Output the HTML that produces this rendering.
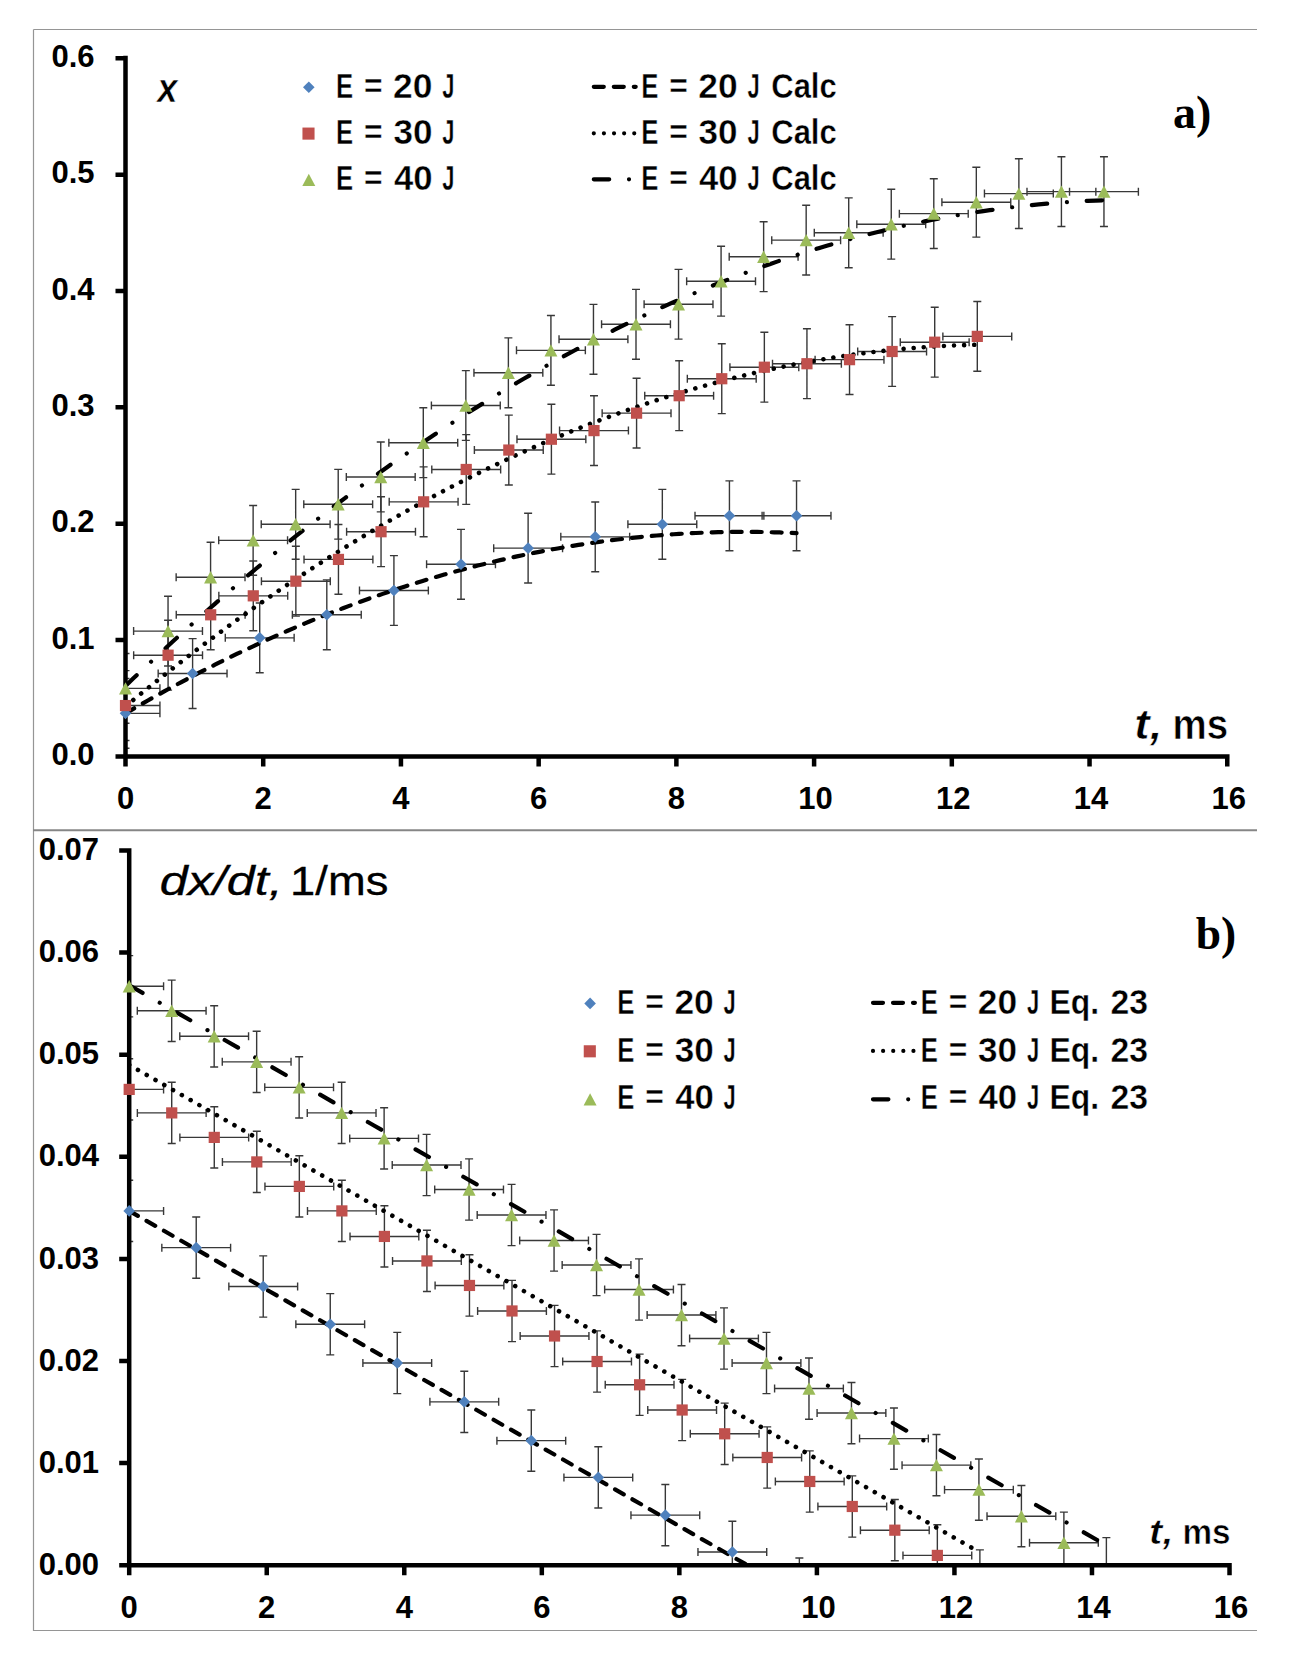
<!DOCTYPE html>
<html><head><meta charset="utf-8"><title>chart</title>
<style>html,body{margin:0;padding:0;background:#fff;}body{width:1300px;height:1670px;overflow:hidden;font-family:"Liberation Sans",sans-serif;}svg{display:block;}</style>
</head><body>
<svg width="1300" height="1670" viewBox="0 0 1300 1670">
<rect width="1300" height="1670" fill="#fff"/>
<path d="M33.5 29.5H1257M33.5 29.5V1630.5H1257" fill="none" stroke="#959595" stroke-width="1.2"/>
<path d="M33 830.3H1257" fill="none" stroke="#868686" stroke-width="2"/>
<defs>
<clipPath id="ca"><rect x="125.5" y="18.1" width="1141.8" height="738.3"/></clipPath>
<clipPath id="cb"><rect x="129.2" y="810.5" width="1140.3" height="754.7"/></clipPath>
</defs>
<g id="chartA">
<g clip-path="url(#ca)" fill="none" stroke="#383838" stroke-width="1.4">
<path d="M125.5 678.45V748.26M121.5 678.45H129.5M121.5 748.26H129.5M91.07 713.35H159.93M91.07 709.35V717.35M159.93 709.35V717.35M192.6 638.65V708.46M188.6 638.65H196.6M188.6 708.46H196.6M158.17 673.56H227.03M158.17 669.56V677.56M227.03 669.56V677.56M259.71 602.93V672.74M255.71 602.93H263.71M255.71 672.74H263.71M225.28 637.84H294.14M225.28 633.84V641.84M294.14 633.84V641.84M326.81 579.9V649.71M322.81 579.9H330.81M322.81 649.71H330.81M292.38 614.8H361.24M292.38 610.8V618.8M361.24 610.8V618.8M393.92 555.58V625.39M389.92 555.58H397.92M389.92 625.39H397.92M359.49 590.48H428.35M359.49 586.48V594.48M428.35 586.48V594.48M461.02 529.4V599.21M457.02 529.4H465.02M457.02 599.21H465.02M426.59 564.31H495.45M426.59 560.31V568.31M495.45 560.31V568.31M528.12 513.23V583.04M524.12 513.23H532.12M524.12 583.04H532.12M493.69 548.13H562.55M493.69 544.13V552.13M562.55 544.13V552.13M595.23 501.94V571.75M591.23 501.94H599.23M591.23 571.75H599.23M560.8 536.85H629.66M560.8 532.85V540.85M629.66 532.85V540.85M662.33 489.38V559.19M658.33 489.38H666.33M658.33 559.19H666.33M627.9 524.28H696.76M627.9 520.28V528.28M696.76 520.28V528.28M729.44 480.88V550.69M725.44 480.88H733.44M725.44 550.69H733.44M695.01 515.79H763.87M695.01 511.79V519.79M763.87 511.79V519.79M796.54 480.88V550.69M792.54 480.88H800.54M792.54 550.69H800.54M762.11 515.79H830.97M762.11 511.79V519.79M830.97 511.79V519.79"/>
<path d="M125.5 670.65V740.46M121.5 670.65H129.5M121.5 740.46H129.5M91.07 705.56H159.93M91.07 701.56V709.56M159.93 701.56V709.56M168.09 620.27V690.08M164.09 620.27H172.09M164.09 690.08H172.09M133.66 655.18H202.52M133.66 651.18V659.18M202.52 651.18V659.18M210.68 579.9V649.71M206.68 579.9H214.68M206.68 649.71H214.68M176.25 614.8H245.11M176.25 610.8V618.8M245.11 610.8V618.8M253.27 560.93V630.74M249.27 560.93H257.27M249.27 630.74H257.27M218.84 595.84H287.7M218.84 591.84V599.84M287.7 591.84V599.84M295.86 546.27V616.08M291.86 546.27H299.86M291.86 616.08H299.86M261.43 581.18H330.29M261.43 577.18V585.18M330.29 577.18V585.18M338.45 524.51V594.32M334.45 524.51H342.45M334.45 594.32H342.45M304.02 559.42H372.88M304.02 555.42V563.42M372.88 555.42V563.42M381.04 496.82V566.63M377.04 496.82H385.04M377.04 566.63H385.04M346.61 531.73H415.47M346.61 527.73V535.73M415.47 527.73V535.73M423.63 466.92V536.73M419.63 466.92H427.63M419.63 536.73H427.63M389.2 501.83H458.06M389.2 497.83V505.83M458.06 497.83V505.83M466.22 434.58V504.39M462.22 434.58H470.22M462.22 504.39H470.22M431.79 469.48H500.65M431.79 465.48V473.48M500.65 465.48V473.48M508.81 415.15V484.96M504.81 415.15H512.81M504.81 484.96H512.81M474.38 450.05H543.24M474.38 446.05V454.05M543.24 446.05V454.05M551.4 404.32V474.13M547.4 404.32H555.4M547.4 474.13H555.4M516.97 439.23H585.83M516.97 435.23V443.23M585.83 435.23V443.23M593.99 395.71V465.52M589.99 395.71H597.99M589.99 465.52H597.99M559.56 430.62H628.42M559.56 426.62V434.62M628.42 426.62V434.62M636.58 378.26V448.07M632.58 378.26H640.58M632.58 448.07H640.58M602.15 413.17H671.01M602.15 409.17V417.17M671.01 409.17V417.17M679.17 360.81V430.62M675.17 360.81H683.17M675.17 430.62H683.17M644.74 395.71H713.6M644.74 391.71V399.71M713.6 391.71V399.71M721.76 343.82V413.63M717.76 343.82H725.76M717.76 413.63H725.76M687.33 378.73H756.19M687.33 374.73V382.73M756.19 374.73V382.73M764.35 332.3V402.11M760.35 332.3H768.35M760.35 402.11H768.35M729.92 367.21H798.78M729.92 363.21V371.21M798.78 363.21V371.21M806.94 328.81V398.62M802.94 328.81H810.94M802.94 398.62H810.94M772.51 363.72H841.37M772.51 359.72V367.72M841.37 359.72V367.72M849.53 324.74V394.55M845.53 324.74H853.53M845.53 394.55H853.53M815.1 359.65H883.96M815.1 355.65V363.65M883.96 355.65V363.65M892.12 316.6V386.41M888.12 316.6H896.12M888.12 386.41H896.12M857.69 351.5H926.55M857.69 347.5V355.5M926.55 347.5V355.5M934.71 307.29V377.1M930.71 307.29H938.71M930.71 377.1H938.71M900.28 342.19H969.14M900.28 338.19V346.19M969.14 338.19V346.19M977.3 301.47V371.28M973.3 301.47H981.3M973.3 371.28H981.3M942.87 336.38H1011.73M942.87 332.38V340.38M1011.73 332.38V340.38"/>
<path d="M125.5 653.43V723.24M121.5 653.43H129.5M121.5 723.24H129.5M91.07 688.34H159.93M91.07 684.34V692.34M159.93 684.34V692.34M168.04 596.19V666M164.04 596.19H172.04M164.04 666H172.04M133.61 631.09H202.47M133.61 627.09V635.09M202.47 627.09V635.09M210.58 542.32V612.13M206.58 542.32H214.58M206.58 612.13H214.58M176.15 577.22H245.01M176.15 573.22V581.22M245.01 573.22V581.22M253.13 505.43V575.24M249.13 505.43H257.13M249.13 575.24H257.13M218.7 540.34H287.56M218.7 536.34V544.34M287.56 536.34V544.34M295.67 489.38V559.19M291.67 489.38H299.67M291.67 559.19H299.67M261.24 524.28H330.1M261.24 520.28V528.28M330.1 520.28V528.28M338.21 469.36V539.17M334.21 469.36H342.21M334.21 539.17H342.21M303.78 504.27H372.64M303.78 500.27V508.27M372.64 500.27V508.27M380.75 442.02V511.83M376.75 442.02H384.75M376.75 511.83H384.75M346.32 476.93H415.18M346.32 472.93V480.93M415.18 472.93V480.93M423.29 407.82V477.63M419.29 407.82H427.29M419.29 477.63H427.29M388.86 442.72H457.72M388.86 438.72V446.72M457.72 438.72V446.72M465.83 370.58V440.39M461.83 370.58H469.83M461.83 440.39H469.83M431.4 405.49H500.26M431.4 401.49V409.49M500.26 401.49V409.49M508.38 337.89V407.7M504.38 337.89H512.38M504.38 407.7H512.38M473.95 372.79H542.81M473.95 368.79V376.79M542.81 368.79V376.79M550.92 315.43V385.24M546.92 315.43H554.92M546.92 385.24H554.92M516.49 350.34H585.35M516.49 346.34V354.34M585.35 346.34V354.34M593.46 304.38V374.19M589.46 304.38H597.46M589.46 374.19H597.46M559.03 339.29H627.89M559.03 335.29V343.29M627.89 335.29V343.29M636 289.37V359.18M632 289.37H640M632 359.18H640M601.57 324.28H670.43M601.57 320.28V328.28M670.43 320.28V328.28M678.54 269.36V339.17M674.54 269.36H682.54M674.54 339.17H682.54M644.11 304.26H712.97M644.11 300.26V308.26M712.97 300.26V308.26M721.08 246.32V316.13M717.08 246.32H725.08M717.08 316.13H725.08M686.65 281.23H755.51M686.65 277.23V285.23M755.51 277.23V285.23M763.63 221.77V291.58M759.63 221.77H767.63M759.63 291.58H767.63M729.2 256.68H798.06M729.2 252.68V260.68M798.06 252.68V260.68M806.17 205.25V275.06M802.17 205.25H810.17M802.17 275.06H810.17M771.74 240.16H840.6M771.74 236.16V244.16M840.6 236.16V244.16M848.71 197.92V267.73M844.71 197.92H852.71M844.71 267.73H852.71M814.28 232.82H883.14M814.28 228.82V236.82M883.14 228.82V236.82M891.25 189.31V259.12M887.25 189.31H895.25M887.25 259.12H895.25M856.82 224.22H925.68M856.82 220.22V228.22M925.68 220.22V228.22M933.79 178.72V248.53M929.79 178.72H937.79M929.79 248.53H937.79M899.36 213.63H968.22M899.36 209.63V217.63M968.22 209.63V217.63M976.33 167.32V237.13M972.33 167.32H980.33M972.33 237.13H980.33M941.9 202.22H1010.76M941.9 198.22V206.22M1010.76 198.22V206.22M1018.88 158.71V228.52M1014.88 158.71H1022.88M1014.88 228.52H1022.88M984.45 193.62H1053.31M984.45 189.62V197.62M1053.31 189.62V197.62M1061.42 156.73V226.54M1057.42 156.73H1065.42M1057.42 226.54H1065.42M1026.99 191.64H1095.85M1026.99 187.64V195.64M1095.85 187.64V195.64M1103.96 156.73V226.54M1099.96 156.73H1107.96M1099.96 226.54H1107.96M1069.53 191.64H1138.39M1069.53 187.64V195.64M1138.39 187.64V195.64"/>
</g>
<path d="M125.5 55.85V766.4M115.5 756.4H1229.55M115.5 756.4H125.5M115.5 640.05H125.5M115.5 523.7H125.5M115.5 407.35H125.5M115.5 291H125.5M115.5 174.65H125.5M115.5 58.3H125.5M125.5 756.4V766.4M263.22 756.4V766.4M400.94 756.4V766.4M538.66 756.4V766.4M676.38 756.4V766.4M814.1 756.4V766.4M951.82 756.4V766.4M1089.54 756.4V766.4M1227.26 756.4V766.4" fill="none" stroke="#000" stroke-width="4.5"/>
<g clip-path="url(#ca)" fill="none" stroke="#000" stroke-width="4.2" stroke-linecap="round">
<path d="M125.5 713.35L131.09 710.09L136.68 706.85L142.28 703.65L147.87 700.47L153.46 697.33L159.05 694.21L164.64 691.13L170.24 688.07L175.83 685.04L181.42 682.04L187.01 679.08L192.6 676.14L198.2 673.23L203.79 670.35L209.38 667.5L214.97 664.68L220.56 661.89L226.16 659.13L231.75 656.4L237.34 653.7L242.93 651.03L248.52 648.39L254.12 645.78L259.71 643.19L265.3 640.64L270.89 638.12L276.48 635.62L282.08 633.16L287.67 630.72L293.26 628.32L298.85 625.94L304.44 623.6L310.04 621.28L315.63 619L321.22 616.74L326.81 614.51L332.4 612.31L338 610.15L343.59 608.01L349.18 605.9L354.77 603.82L360.36 601.77L365.96 599.75L371.55 597.76L377.14 595.8L382.73 593.87L388.32 591.97L393.92 590.09L399.51 588.25L405.1 586.44L410.69 584.66L416.28 582.9L421.88 581.18L427.47 579.49L433.06 577.82L438.65 576.19L444.24 574.58L449.84 573.01L455.43 571.46L461.02 569.94L466.61 568.46L472.2 567L477.8 565.57L483.39 564.17L488.98 562.81L494.57 561.47L500.16 560.16L505.76 558.88L511.35 557.63L516.94 556.41L522.53 555.22L528.12 554.06L533.72 552.93L539.31 551.82L544.9 550.75L550.49 549.71L556.08 548.7L561.68 547.71L567.27 546.76L572.86 545.84L578.45 544.94L584.04 544.08L589.64 543.24L595.23 542.44L600.82 541.66L606.41 540.91L612 540.2L617.6 539.51L623.19 538.85L628.78 538.22L634.37 537.63L639.96 537.06L645.56 536.52L651.15 536.01L656.74 535.53L662.33 535.08L667.92 534.66L673.52 534.27L679.11 533.91L684.7 533.57L690.29 533.27L695.88 533L701.48 532.76L707.07 532.54L712.66 532.36L718.25 532.21L723.84 532.08L729.44 531.99L735.03 531.92L740.62 531.89L746.21 531.88L751.8 531.9L757.4 531.96L762.99 532.04L768.58 532.15L774.17 532.3L779.76 532.47L785.36 532.67L790.95 532.9L796.54 533.16" stroke-dasharray="10 10"/>
<path d="M125.5 706.37L132.6 700.52L139.7 694.71L146.79 688.95L153.89 683.24L160.99 677.58L168.09 671.97L175.19 666.4L182.29 660.88L189.38 655.41L196.48 649.99L203.58 644.61L210.68 639.28L217.78 634L224.88 628.77L231.97 623.58L239.07 618.45L246.17 613.36L253.27 608.32L260.37 603.32L267.47 598.38L274.56 593.48L281.66 588.63L288.76 583.82L295.86 579.07L302.96 574.36L310.06 569.7L317.15 565.09L324.25 560.52L331.35 556.01L338.45 551.54L345.55 547.12L352.65 542.74L359.74 538.42L366.84 534.14L373.94 529.91L381.04 525.72L388.14 521.59L395.24 517.5L402.33 513.46L409.43 509.47L416.53 505.53L423.63 501.63L430.73 497.78L437.83 493.98L444.92 490.23L452.02 486.52L459.12 482.86L466.22 479.25L473.32 475.69L480.42 472.18L487.51 468.71L494.61 465.29L501.71 461.92L508.81 458.6L515.91 455.32L523.01 452.09L530.1 448.91L537.2 445.78L544.3 442.69L551.4 439.66L558.5 436.67L565.6 433.72L572.69 430.83L579.79 427.98L586.89 425.18L593.99 422.43L601.09 419.73L608.19 417.07L615.28 414.47L622.38 411.91L629.48 409.39L636.58 406.93L643.68 404.51L650.78 402.14L657.87 399.82L664.97 397.55L672.07 395.32L679.17 393.14L686.27 391.01L693.37 388.93L700.46 386.89L707.56 384.91L714.66 382.97L721.76 381.07L728.86 379.23L735.96 377.43L743.05 375.68L750.15 373.98L757.25 372.33L764.35 370.72L771.45 369.17L778.55 367.66L785.64 366.19L792.74 364.78L799.84 363.41L806.94 362.09L814.04 360.82L821.14 359.6L828.23 358.42L835.33 357.29L842.43 356.21L849.53 355.18L856.63 354.19L863.73 353.26L870.82 352.37L877.92 351.52L885.02 350.73L892.12 349.98L899.22 349.28L906.32 348.63L913.41 348.03L920.51 347.47L927.61 346.97L934.71 346.5L941.81 346.09L948.9 345.73L956 345.41L963.1 345.14L970.2 344.92L977.3 344.75" stroke-dasharray="0.01 10.1" stroke-width="4.6"/>
<path d="M125.5 685.89L133.65 678.1L141.81 670.37L149.96 662.7L158.12 655.09L166.27 647.55L174.42 640.07L182.58 632.66L190.73 625.3L198.88 618.01L207.04 610.79L215.19 603.62L223.35 596.52L231.5 589.48L239.65 582.51L247.81 575.59L255.96 568.75L264.12 561.96L272.27 555.24L280.42 548.57L288.58 541.98L296.73 535.44L304.88 528.97L313.04 522.56L321.19 516.22L329.35 509.93L337.5 503.71L345.65 497.56L353.81 491.46L361.96 485.43L370.11 479.47L378.27 473.56L386.42 467.72L394.58 461.94L402.73 456.22L410.88 450.57L419.04 444.98L427.19 439.45L435.35 433.99L443.5 428.59L451.65 423.25L459.81 417.98L467.96 412.76L476.11 407.61L484.27 402.53L492.42 397.51L500.58 392.54L508.73 387.65L516.88 382.81L525.04 378.04L533.19 373.33L541.35 368.69L549.5 364.11L557.65 359.59L565.81 355.13L573.96 350.74L582.11 346.41L590.27 342.14L598.42 337.93L606.58 333.79L614.73 329.71L622.88 325.7L631.04 321.74L639.19 317.86L647.34 314.03L655.5 310.26L663.65 306.56L671.81 302.93L679.96 299.35L688.11 295.84L696.27 292.39L704.42 289L712.58 285.68L720.73 282.42L728.88 279.22L737.04 276.09L745.19 273.02L753.34 270.01L761.5 267.07L769.65 264.18L777.81 261.36L785.96 258.61L794.11 255.91L802.27 253.28L810.42 250.72L818.58 248.21L826.73 245.77L834.88 243.39L843.04 241.08L851.19 238.82L859.34 236.64L867.5 234.51L875.65 232.45L883.81 230.44L891.96 228.51L900.11 226.63L908.27 224.82L916.42 223.07L924.58 221.39L932.73 219.76L940.88 218.2L949.04 216.71L957.19 215.27L965.34 213.9L973.5 212.59L981.65 211.35L989.81 210.17L997.96 209.05L1006.11 207.99L1014.27 207L1022.42 206.07L1030.57 205.2L1038.73 204.4L1046.88 203.66L1055.04 202.98L1063.19 202.36L1071.34 201.81L1079.5 201.32L1087.65 200.9L1095.81 200.53L1103.96 200.23" stroke-dasharray="15.4 19.8 0.01 19.8"/>
</g>
<path d="M125.5 707.55L131.3 713.35L125.5 719.15L119.7 713.35Z" fill="#4F81BD"/><path d="M192.6 667.76L198.4 673.56L192.6 679.36L186.8 673.56Z" fill="#4F81BD"/><path d="M259.71 632.04L265.51 637.84L259.71 643.64L253.91 637.84Z" fill="#4F81BD"/><path d="M326.81 609L332.61 614.8L326.81 620.6L321.01 614.8Z" fill="#4F81BD"/><path d="M393.92 584.68L399.72 590.48L393.92 596.28L388.12 590.48Z" fill="#4F81BD"/><path d="M461.02 558.51L466.82 564.31L461.02 570.11L455.22 564.31Z" fill="#4F81BD"/><path d="M528.12 542.33L533.92 548.13L528.12 553.93L522.32 548.13Z" fill="#4F81BD"/><path d="M595.23 531.05L601.03 536.85L595.23 542.65L589.43 536.85Z" fill="#4F81BD"/><path d="M662.33 518.48L668.13 524.28L662.33 530.08L656.53 524.28Z" fill="#4F81BD"/><path d="M729.44 509.99L735.24 515.79L729.44 521.59L723.64 515.79Z" fill="#4F81BD"/><path d="M796.54 509.99L802.34 515.79L796.54 521.59L790.74 515.79Z" fill="#4F81BD"/>
<rect x="119.9" y="699.96" width="11.2" height="11.2" fill="#C0504D"/><rect x="162.49" y="649.58" width="11.2" height="11.2" fill="#C0504D"/><rect x="205.08" y="609.2" width="11.2" height="11.2" fill="#C0504D"/><rect x="247.67" y="590.24" width="11.2" height="11.2" fill="#C0504D"/><rect x="290.26" y="575.58" width="11.2" height="11.2" fill="#C0504D"/><rect x="332.85" y="553.82" width="11.2" height="11.2" fill="#C0504D"/><rect x="375.44" y="526.13" width="11.2" height="11.2" fill="#C0504D"/><rect x="418.03" y="496.23" width="11.2" height="11.2" fill="#C0504D"/><rect x="460.62" y="463.88" width="11.2" height="11.2" fill="#C0504D"/><rect x="503.21" y="444.45" width="11.2" height="11.2" fill="#C0504D"/><rect x="545.8" y="433.63" width="11.2" height="11.2" fill="#C0504D"/><rect x="588.39" y="425.02" width="11.2" height="11.2" fill="#C0504D"/><rect x="630.98" y="407.57" width="11.2" height="11.2" fill="#C0504D"/><rect x="673.57" y="390.11" width="11.2" height="11.2" fill="#C0504D"/><rect x="716.16" y="373.13" width="11.2" height="11.2" fill="#C0504D"/><rect x="758.75" y="361.61" width="11.2" height="11.2" fill="#C0504D"/><rect x="801.34" y="358.12" width="11.2" height="11.2" fill="#C0504D"/><rect x="843.93" y="354.05" width="11.2" height="11.2" fill="#C0504D"/><rect x="886.52" y="345.9" width="11.2" height="11.2" fill="#C0504D"/><rect x="929.11" y="336.59" width="11.2" height="11.2" fill="#C0504D"/><rect x="971.7" y="330.78" width="11.2" height="11.2" fill="#C0504D"/>
<path d="M125.5 682.14L132 694.54L119 694.54Z" fill="#9BBB59"/><path d="M168.04 624.89L174.54 637.29L161.54 637.29Z" fill="#9BBB59"/><path d="M210.58 571.02L217.08 583.42L204.08 583.42Z" fill="#9BBB59"/><path d="M253.13 534.14L259.63 546.54L246.63 546.54Z" fill="#9BBB59"/><path d="M295.67 518.08L302.17 530.48L289.17 530.48Z" fill="#9BBB59"/><path d="M338.21 498.07L344.71 510.47L331.71 510.47Z" fill="#9BBB59"/><path d="M380.75 470.73L387.25 483.13L374.25 483.13Z" fill="#9BBB59"/><path d="M423.29 436.52L429.79 448.92L416.79 448.92Z" fill="#9BBB59"/><path d="M465.83 399.29L472.33 411.69L459.33 411.69Z" fill="#9BBB59"/><path d="M508.38 366.59L514.88 378.99L501.88 378.99Z" fill="#9BBB59"/><path d="M550.92 344.14L557.42 356.54L544.42 356.54Z" fill="#9BBB59"/><path d="M593.46 333.09L599.96 345.49L586.96 345.49Z" fill="#9BBB59"/><path d="M636 318.08L642.5 330.48L629.5 330.48Z" fill="#9BBB59"/><path d="M678.54 298.06L685.04 310.46L672.04 310.46Z" fill="#9BBB59"/><path d="M721.08 275.03L727.58 287.43L714.58 287.43Z" fill="#9BBB59"/><path d="M763.63 250.48L770.13 262.88L757.13 262.88Z" fill="#9BBB59"/><path d="M806.17 233.96L812.67 246.36L799.67 246.36Z" fill="#9BBB59"/><path d="M848.71 226.62L855.21 239.02L842.21 239.02Z" fill="#9BBB59"/><path d="M891.25 218.02L897.75 230.42L884.75 230.42Z" fill="#9BBB59"/><path d="M933.79 207.43L940.29 219.83L927.29 219.83Z" fill="#9BBB59"/><path d="M976.33 196.02L982.83 208.42L969.83 208.42Z" fill="#9BBB59"/><path d="M1018.88 187.42L1025.38 199.82L1012.38 199.82Z" fill="#9BBB59"/><path d="M1061.42 185.44L1067.92 197.84L1054.92 197.84Z" fill="#9BBB59"/><path d="M1103.96 185.44L1110.46 197.84L1097.46 197.84Z" fill="#9BBB59"/>
</g>
<g id="chartB">
<g clip-path="url(#cb)" fill="none" stroke="#383838" stroke-width="1.4">
<path d="M129.2 1180.28V1241.54M125.2 1180.28H133.2M125.2 1241.54H133.2M94.81 1210.91H163.58M94.81 1206.91V1214.91M163.58 1206.91V1214.91M196.22 1217.04V1278.3M192.22 1217.04H200.22M192.22 1278.3H200.22M161.83 1247.67H230.6M161.83 1243.67V1251.67M230.6 1243.67V1251.67M263.23 1255.84V1317.1M259.23 1255.84H267.23M259.23 1317.1H267.23M228.85 1286.47H297.62M228.85 1282.47V1290.47M297.62 1282.47V1290.47M330.25 1293.61V1354.87M326.25 1293.61H334.25M326.25 1354.87H334.25M295.86 1324.24H364.63M295.86 1320.24V1328.24M364.63 1320.24V1328.24M397.27 1332.41V1393.67M393.27 1332.41H401.27M393.27 1393.67H401.27M362.88 1363.04H431.65M362.88 1359.04V1367.04M431.65 1359.04V1367.04M464.28 1371.21V1432.47M460.28 1371.21H468.28M460.28 1432.47H468.28M429.9 1401.84H498.67M429.9 1397.84V1405.84M498.67 1397.84V1405.84M531.3 1410.01V1471.27M527.3 1410.01H535.3M527.3 1471.27H535.3M496.91 1440.64H565.68M496.91 1436.64V1444.64M565.68 1436.64V1444.64M598.31 1446.76V1508.02M594.31 1446.76H602.31M594.31 1508.02H602.31M563.93 1477.39H632.7M563.93 1473.39V1481.39M632.7 1473.39V1481.39M665.33 1484.54V1545.8M661.33 1484.54H669.33M661.33 1545.8H669.33M630.95 1515.17H699.72M630.95 1511.17V1519.17M699.72 1511.17V1519.17M732.35 1521.3V1582.56M728.35 1521.3H736.35M728.35 1582.56H736.35M697.96 1551.93H766.73M697.96 1547.93V1555.93M766.73 1547.93V1555.93M799.36 1558.05V1619.31M795.36 1558.05H803.36M795.36 1619.31H803.36M764.98 1588.68H833.75M764.98 1584.68V1592.68M833.75 1584.68V1592.68"/>
<path d="M129.2 1058.78V1120.04M125.2 1058.78H133.2M125.2 1120.04H133.2M94.81 1089.41H163.58M94.81 1085.41V1093.41M163.58 1085.41V1093.41M171.73 1082.27V1143.53M167.73 1082.27H175.73M167.73 1143.53H175.73M137.35 1112.9H206.12M137.35 1108.9V1116.9M206.12 1108.9V1116.9M214.27 1106.77V1168.03M210.27 1106.77H218.27M210.27 1168.03H218.27M179.88 1137.4H248.65M179.88 1133.4V1141.4M248.65 1133.4V1141.4M256.8 1131.28V1192.54M252.8 1131.28H260.8M252.8 1192.54H260.8M222.42 1161.9H291.19M222.42 1157.9V1165.9M291.19 1157.9V1165.9M299.34 1155.78V1217.04M295.34 1155.78H303.34M295.34 1217.04H303.34M264.95 1186.41H333.72M264.95 1182.41V1190.41M333.72 1182.41V1190.41M341.87 1180.28V1241.54M337.87 1180.28H345.87M337.87 1241.54H345.87M307.49 1210.91H376.26M307.49 1206.91V1214.91M376.26 1206.91V1214.91M384.41 1205.81V1267.07M380.41 1205.81H388.41M380.41 1267.07H388.41M350.02 1236.44H418.79M350.02 1232.44V1240.44M418.79 1232.44V1240.44M426.94 1230.31V1291.57M422.94 1230.31H430.94M422.94 1291.57H430.94M392.55 1260.94H461.32M392.55 1256.94V1264.94M461.32 1256.94V1264.94M469.47 1254.82V1316.08M465.47 1254.82H473.47M465.47 1316.08H473.47M435.09 1285.45H503.86M435.09 1281.45V1289.45M503.86 1281.45V1289.45M512.01 1280.34V1341.6M508.01 1280.34H516.01M508.01 1341.6H516.01M477.62 1310.97H546.39M477.62 1306.97V1314.97M546.39 1306.97V1314.97M554.54 1305.36V1366.62M550.54 1305.36H558.54M550.54 1366.62H558.54M520.16 1335.99H588.93M520.16 1331.99V1339.99M588.93 1331.99V1339.99M597.08 1330.88V1392.14M593.08 1330.88H601.08M593.08 1392.14H601.08M562.69 1361.51H631.46M562.69 1357.51V1365.51M631.46 1357.51V1365.51M639.61 1354.16V1415.42M635.61 1354.16H643.61M635.61 1415.42H643.61M605.23 1384.79H674M605.23 1380.79V1388.79M674 1380.79V1388.79M682.15 1379.38V1440.64M678.15 1379.38H686.15M678.15 1440.64H686.15M647.76 1410.01H716.53M647.76 1406.01V1414.01M716.53 1406.01V1414.01M724.68 1403.17V1464.43M720.68 1403.17H728.68M720.68 1464.43H728.68M690.29 1433.8H759.06M690.29 1429.8V1437.8M759.06 1429.8V1437.8M767.21 1426.85V1488.11M763.21 1426.85H771.21M763.21 1488.11H771.21M732.83 1457.48H801.6M732.83 1453.48V1461.48M801.6 1453.48V1461.48M809.75 1450.85V1512.11M805.75 1450.85H813.75M805.75 1512.11H813.75M775.36 1481.48H844.13M775.36 1477.48V1485.48M844.13 1477.48V1485.48M852.28 1475.86V1537.12M848.28 1475.86H856.28M848.28 1537.12H856.28M817.9 1506.49H886.67M817.9 1502.49V1510.49M886.67 1502.49V1510.49M894.82 1499.55V1560.81M890.82 1499.55H898.82M890.82 1560.81H898.82M860.43 1530.18H929.2M860.43 1526.18V1534.18M929.2 1526.18V1534.18M937.35 1524.77V1586.03M933.35 1524.77H941.35M933.35 1586.03H941.35M902.97 1555.4H971.74M902.97 1551.4V1559.4M971.74 1551.4V1559.4M979.88 1549.88V1611.14M975.88 1549.88H983.88M975.88 1611.14H983.88M945.5 1580.52H1014.27M945.5 1576.52V1584.52M1014.27 1576.52V1584.52"/>
<path d="M129.2 955.66V1016.92M125.2 955.66H133.2M125.2 1016.92H133.2M94.81 986.29H163.58M94.81 982.29V990.29M163.58 982.29V990.29M171.69 980.17V1041.43M167.69 980.17H175.69M167.69 1041.43H175.69M137.3 1010.8H206.07M137.3 1006.8V1014.8M206.07 1006.8V1014.8M214.17 1005.69V1066.95M210.17 1005.69H218.17M210.17 1066.95H218.17M179.79 1036.32H248.56M179.79 1032.32V1040.32M248.56 1032.32V1040.32M256.66 1031.22V1092.48M252.66 1031.22H260.66M252.66 1092.48H260.66M222.27 1061.85H291.04M222.27 1057.85V1065.85M291.04 1057.85V1065.85M299.14 1056.74V1118M295.14 1056.74H303.14M295.14 1118H303.14M264.76 1087.37H333.53M264.76 1083.37V1091.37M333.53 1083.37V1091.37M341.63 1082.27V1143.53M337.63 1082.27H345.63M337.63 1143.53H345.63M307.25 1112.9H376.02M307.25 1108.9V1116.9M376.02 1108.9V1116.9M384.12 1107.79V1169.05M380.12 1107.79H388.12M380.12 1169.05H388.12M349.73 1138.42H418.5M349.73 1134.42V1142.42M418.5 1134.42V1142.42M426.6 1134.34V1195.6M422.6 1134.34H430.6M422.6 1195.6H430.6M392.22 1164.97H460.99M392.22 1160.97V1168.97M460.99 1160.97V1168.97M469.09 1158.84V1220.1M465.09 1158.84H473.09M465.09 1220.1H473.09M434.7 1189.47H503.47M434.7 1185.47V1193.47M503.47 1185.47V1193.47M511.57 1184.37V1245.63M507.57 1184.37H515.57M507.57 1245.63H515.57M477.19 1215H545.96M477.19 1211V1219M545.96 1211V1219M554.06 1209.89V1271.15M550.06 1209.89H558.06M550.06 1271.15H558.06M519.68 1240.52H588.45M519.68 1236.52V1244.52M588.45 1236.52V1244.52M596.55 1234.4V1295.66M592.55 1234.4H600.55M592.55 1295.66H600.55M562.16 1265.03H630.93M562.16 1261.03V1269.03M630.93 1261.03V1269.03M639.03 1258.9V1320.16M635.03 1258.9H643.03M635.03 1320.16H643.03M604.65 1289.53H673.42M604.65 1285.53V1293.53M673.42 1285.53V1293.53M681.52 1284.43V1345.68M677.52 1284.43H685.52M677.52 1345.68H685.52M647.13 1315.06H715.9M647.13 1311.06V1319.06M715.9 1311.06V1319.06M724.01 1307.91V1369.17M720.01 1307.91H728.01M720.01 1369.17H728.01M689.62 1338.54H758.39M689.62 1334.54V1342.54M758.39 1334.54V1342.54M766.49 1332.41V1393.67M762.49 1332.41H770.49M762.49 1393.67H770.49M732.11 1363.04H800.88M732.11 1359.04V1367.04M800.88 1359.04V1367.04M808.98 1357.94V1419.2M804.98 1357.94H812.98M804.98 1419.2H812.98M774.59 1388.57H843.36M774.59 1384.57V1392.57M843.36 1384.57V1392.57M851.46 1382.44V1443.7M847.46 1382.44H855.46M847.46 1443.7H855.46M817.08 1413.07H885.85M817.08 1409.07V1417.07M885.85 1409.07V1417.07M893.95 1407.97V1469.23M889.95 1407.97H897.95M889.95 1469.23H897.95M859.56 1438.6H928.33M859.56 1434.6V1442.6M928.33 1434.6V1442.6M936.44 1434.51V1495.77M932.44 1434.51H940.44M932.44 1495.77H940.44M902.05 1465.14H970.82M902.05 1461.14V1469.14M970.82 1461.14V1469.14M978.92 1459.02V1520.28M974.92 1459.02H982.92M974.92 1520.28H982.92M944.54 1489.65H1013.31M944.54 1485.65V1493.65M1013.31 1485.65V1493.65M1021.41 1485.56V1546.82M1017.41 1485.56H1025.41M1017.41 1546.82H1025.41M987.02 1516.19H1055.79M987.02 1512.19V1520.19M1055.79 1512.19V1520.19M1063.89 1512.11V1573.37M1059.89 1512.11H1067.89M1059.89 1573.37H1067.89M1029.51 1542.74H1098.28M1029.51 1538.74V1546.74M1098.28 1538.74V1546.74M1106.38 1537.63V1598.89M1102.38 1537.63H1110.38M1102.38 1598.89H1110.38M1072 1568.26H1140.77M1072 1564.26V1572.26M1140.77 1564.26V1572.26"/>
</g>
<path d="M129.2 848.25V1575.2M119.2 1565.2H1231.75M119.2 1565.2H129.2M119.2 1463.1H129.2M119.2 1361H129.2M119.2 1258.9H129.2M119.2 1156.8H129.2M119.2 1054.7H129.2M119.2 952.6H129.2M119.2 850.5H129.2M129.2 1565.2V1575.2M266.74 1565.2V1575.2M404.28 1565.2V1575.2M541.82 1565.2V1575.2M679.36 1565.2V1575.2M816.9 1565.2V1575.2M954.44 1565.2V1575.2M1091.98 1565.2V1575.2M1229.52 1565.2V1575.2" fill="none" stroke="#000" stroke-width="4.5"/>
<g clip-path="url(#cb)" fill="none" stroke="#000" stroke-width="4.2" stroke-linecap="round">
<path d="M129.2 1210.91L296.74 1306.93L464.28 1402.94L631.82 1498.96L799.36 1594.97" stroke-dasharray="10 10"/>
<path d="M129.2 1064.91L341.87 1186.79L554.54 1308.66L767.21 1430.54L979.88 1552.42" stroke-dasharray="0.01 10.1" stroke-width="4.6"/>
<path d="M129.2 985.27L373.5 1125.27L617.79 1265.27L862.09 1405.27L1106.38 1545.27" stroke-dasharray="15.4 19.8 0.01 19.8"/>
</g>
<path d="M129.2 1205.11L135 1210.91L129.2 1216.71L123.4 1210.91Z" fill="#4F81BD"/><path d="M196.22 1241.87L202.02 1247.67L196.22 1253.47L190.42 1247.67Z" fill="#4F81BD"/><path d="M263.23 1280.67L269.03 1286.47L263.23 1292.27L257.43 1286.47Z" fill="#4F81BD"/><path d="M330.25 1318.44L336.05 1324.24L330.25 1330.04L324.45 1324.24Z" fill="#4F81BD"/><path d="M397.27 1357.24L403.07 1363.04L397.27 1368.84L391.47 1363.04Z" fill="#4F81BD"/><path d="M464.28 1396.04L470.08 1401.84L464.28 1407.64L458.48 1401.84Z" fill="#4F81BD"/><path d="M531.3 1434.84L537.1 1440.64L531.3 1446.44L525.5 1440.64Z" fill="#4F81BD"/><path d="M598.31 1471.59L604.11 1477.39L598.31 1483.19L592.51 1477.39Z" fill="#4F81BD"/><path d="M665.33 1509.37L671.13 1515.17L665.33 1520.97L659.53 1515.17Z" fill="#4F81BD"/><path d="M732.35 1546.13L738.15 1551.93L732.35 1557.73L726.55 1551.93Z" fill="#4F81BD"/>
<rect x="123.6" y="1083.81" width="11.2" height="11.2" fill="#C0504D"/><rect x="166.13" y="1107.3" width="11.2" height="11.2" fill="#C0504D"/><rect x="208.67" y="1131.8" width="11.2" height="11.2" fill="#C0504D"/><rect x="251.2" y="1156.31" width="11.2" height="11.2" fill="#C0504D"/><rect x="293.74" y="1180.81" width="11.2" height="11.2" fill="#C0504D"/><rect x="336.27" y="1205.31" width="11.2" height="11.2" fill="#C0504D"/><rect x="378.81" y="1230.84" width="11.2" height="11.2" fill="#C0504D"/><rect x="421.34" y="1255.34" width="11.2" height="11.2" fill="#C0504D"/><rect x="463.87" y="1279.85" width="11.2" height="11.2" fill="#C0504D"/><rect x="506.41" y="1305.37" width="11.2" height="11.2" fill="#C0504D"/><rect x="548.94" y="1330.39" width="11.2" height="11.2" fill="#C0504D"/><rect x="591.48" y="1355.91" width="11.2" height="11.2" fill="#C0504D"/><rect x="634.01" y="1379.19" width="11.2" height="11.2" fill="#C0504D"/><rect x="676.55" y="1404.41" width="11.2" height="11.2" fill="#C0504D"/><rect x="719.08" y="1428.2" width="11.2" height="11.2" fill="#C0504D"/><rect x="761.61" y="1451.88" width="11.2" height="11.2" fill="#C0504D"/><rect x="804.15" y="1475.88" width="11.2" height="11.2" fill="#C0504D"/><rect x="846.68" y="1500.89" width="11.2" height="11.2" fill="#C0504D"/><rect x="889.22" y="1524.58" width="11.2" height="11.2" fill="#C0504D"/><rect x="931.75" y="1549.8" width="11.2" height="11.2" fill="#C0504D"/>
<path d="M129.2 980.09L135.7 992.49L122.7 992.49Z" fill="#9BBB59"/><path d="M171.69 1004.6L178.19 1017L165.19 1017Z" fill="#9BBB59"/><path d="M214.17 1030.12L220.67 1042.52L207.67 1042.52Z" fill="#9BBB59"/><path d="M256.66 1055.65L263.16 1068.05L250.16 1068.05Z" fill="#9BBB59"/><path d="M299.14 1081.17L305.64 1093.57L292.64 1093.57Z" fill="#9BBB59"/><path d="M341.63 1106.7L348.13 1119.1L335.13 1119.1Z" fill="#9BBB59"/><path d="M384.12 1132.22L390.62 1144.62L377.62 1144.62Z" fill="#9BBB59"/><path d="M426.6 1158.77L433.1 1171.17L420.1 1171.17Z" fill="#9BBB59"/><path d="M469.09 1183.27L475.59 1195.67L462.59 1195.67Z" fill="#9BBB59"/><path d="M511.57 1208.8L518.07 1221.2L505.07 1221.2Z" fill="#9BBB59"/><path d="M554.06 1234.32L560.56 1246.72L547.56 1246.72Z" fill="#9BBB59"/><path d="M596.55 1258.83L603.05 1271.23L590.05 1271.23Z" fill="#9BBB59"/><path d="M639.03 1283.33L645.53 1295.73L632.53 1295.73Z" fill="#9BBB59"/><path d="M681.52 1308.86L688.02 1321.26L675.02 1321.26Z" fill="#9BBB59"/><path d="M724.01 1332.34L730.51 1344.74L717.51 1344.74Z" fill="#9BBB59"/><path d="M766.49 1356.84L772.99 1369.24L759.99 1369.24Z" fill="#9BBB59"/><path d="M808.98 1382.37L815.48 1394.77L802.48 1394.77Z" fill="#9BBB59"/><path d="M851.46 1406.87L857.96 1419.27L844.96 1419.27Z" fill="#9BBB59"/><path d="M893.95 1432.4L900.45 1444.8L887.45 1444.8Z" fill="#9BBB59"/><path d="M936.44 1458.94L942.94 1471.34L929.94 1471.34Z" fill="#9BBB59"/><path d="M978.92 1483.45L985.42 1495.85L972.42 1495.85Z" fill="#9BBB59"/><path d="M1021.41 1509.99L1027.91 1522.39L1014.91 1522.39Z" fill="#9BBB59"/><path d="M1063.89 1536.54L1070.39 1548.94L1057.39 1548.94Z" fill="#9BBB59"/>
</g>
<g fill="#000">
<g stroke="#fff" stroke-width="0">
<text x="94.5" y="765.1" font-family="Liberation Sans" font-size="31" font-weight="bold" font-style="normal" text-anchor="end">0.0</text>
<text x="94.5" y="648.75" font-family="Liberation Sans" font-size="31" font-weight="bold" font-style="normal" text-anchor="end">0.1</text>
<text x="94.5" y="532.4" font-family="Liberation Sans" font-size="31" font-weight="bold" font-style="normal" text-anchor="end">0.2</text>
<text x="94.5" y="416.05" font-family="Liberation Sans" font-size="31" font-weight="bold" font-style="normal" text-anchor="end">0.3</text>
<text x="94.5" y="299.7" font-family="Liberation Sans" font-size="31" font-weight="bold" font-style="normal" text-anchor="end">0.4</text>
<text x="94.5" y="183.35" font-family="Liberation Sans" font-size="31" font-weight="bold" font-style="normal" text-anchor="end">0.5</text>
<text x="94.5" y="67" font-family="Liberation Sans" font-size="31" font-weight="bold" font-style="normal" text-anchor="end">0.6</text>
<text x="125.5" y="808.6" font-family="Liberation Sans" font-size="31" font-weight="bold" font-style="normal" text-anchor="middle">0</text>
<text x="263.22" y="808.6" font-family="Liberation Sans" font-size="31" font-weight="bold" font-style="normal" text-anchor="middle">2</text>
<text x="400.94" y="808.6" font-family="Liberation Sans" font-size="31" font-weight="bold" font-style="normal" text-anchor="middle">4</text>
<text x="538.66" y="808.6" font-family="Liberation Sans" font-size="31" font-weight="bold" font-style="normal" text-anchor="middle">6</text>
<text x="676.38" y="808.6" font-family="Liberation Sans" font-size="31" font-weight="bold" font-style="normal" text-anchor="middle">8</text>
<text x="815.6" y="808.6" font-family="Liberation Sans" font-size="31" font-weight="bold" font-style="normal" text-anchor="middle">10</text>
<text x="953.32" y="808.6" font-family="Liberation Sans" font-size="31" font-weight="bold" font-style="normal" text-anchor="middle">12</text>
<text x="1091.04" y="808.6" font-family="Liberation Sans" font-size="31" font-weight="bold" font-style="normal" text-anchor="middle">14</text>
<text x="1228.76" y="808.6" font-family="Liberation Sans" font-size="31" font-weight="bold" font-style="normal" text-anchor="middle">16</text>
<text x="99" y="1574.8" font-family="Liberation Sans" font-size="31" font-weight="bold" font-style="normal" text-anchor="end">0.00</text>
<text x="99" y="1472.7" font-family="Liberation Sans" font-size="31" font-weight="bold" font-style="normal" text-anchor="end">0.01</text>
<text x="99" y="1370.6" font-family="Liberation Sans" font-size="31" font-weight="bold" font-style="normal" text-anchor="end">0.02</text>
<text x="99" y="1268.5" font-family="Liberation Sans" font-size="31" font-weight="bold" font-style="normal" text-anchor="end">0.03</text>
<text x="99" y="1166.4" font-family="Liberation Sans" font-size="31" font-weight="bold" font-style="normal" text-anchor="end">0.04</text>
<text x="99" y="1064.3" font-family="Liberation Sans" font-size="31" font-weight="bold" font-style="normal" text-anchor="end">0.05</text>
<text x="99" y="962.2" font-family="Liberation Sans" font-size="31" font-weight="bold" font-style="normal" text-anchor="end">0.06</text>
<text x="99" y="860.1" font-family="Liberation Sans" font-size="31" font-weight="bold" font-style="normal" text-anchor="end">0.07</text>
<text x="129.2" y="1617.5" font-family="Liberation Sans" font-size="31" font-weight="bold" font-style="normal" text-anchor="middle">0</text>
<text x="266.74" y="1617.5" font-family="Liberation Sans" font-size="31" font-weight="bold" font-style="normal" text-anchor="middle">2</text>
<text x="404.28" y="1617.5" font-family="Liberation Sans" font-size="31" font-weight="bold" font-style="normal" text-anchor="middle">4</text>
<text x="541.82" y="1617.5" font-family="Liberation Sans" font-size="31" font-weight="bold" font-style="normal" text-anchor="middle">6</text>
<text x="679.36" y="1617.5" font-family="Liberation Sans" font-size="31" font-weight="bold" font-style="normal" text-anchor="middle">8</text>
<text x="818.4" y="1617.5" font-family="Liberation Sans" font-size="31" font-weight="bold" font-style="normal" text-anchor="middle">10</text>
<text x="955.94" y="1617.5" font-family="Liberation Sans" font-size="31" font-weight="bold" font-style="normal" text-anchor="middle">12</text>
<text x="1093.48" y="1617.5" font-family="Liberation Sans" font-size="31" font-weight="bold" font-style="normal" text-anchor="middle">14</text>
<text x="1231.02" y="1617.5" font-family="Liberation Sans" font-size="31" font-weight="bold" font-style="normal" text-anchor="middle">16</text>
</g>
<text x="157.25" y="101.7" font-family="Liberation Sans" font-size="41.4" font-weight="bold" font-style="italic" textLength="20.36" lengthAdjust="spacingAndGlyphs" stroke="#fff" stroke-width="0.6">x</text>
<text x="1134.3" y="738.5" font-family="Liberation Sans" font-size="42.4" font-weight="bold" font-style="italic" textLength="28.17" lengthAdjust="spacingAndGlyphs" stroke="#fff" stroke-width="0.6">t,</text>
<text x="1172.5" y="738.5" font-family="Liberation Sans" font-size="42.4" font-weight="bold" font-style="normal" textLength="55.61" lengthAdjust="spacingAndGlyphs" stroke="#fff" stroke-width="0.6">ms</text>
<text x="1149.12" y="1543.5" font-family="Liberation Sans" font-size="35.6" font-weight="bold" font-style="italic" textLength="24.38" lengthAdjust="spacingAndGlyphs" stroke="#fff" stroke-width="0.6">t,</text>
<text x="1182.38" y="1543.5" font-family="Liberation Sans" font-size="35.6" font-weight="bold" font-style="normal" textLength="48.18" lengthAdjust="spacingAndGlyphs" stroke="#fff" stroke-width="0.6">ms</text>
<text x="159.77" y="894.5" font-family="Liberation Sans" font-size="40" font-weight="normal" font-style="italic" textLength="122.94" lengthAdjust="spacingAndGlyphs" stroke="#000" stroke-width="0.3">dx/dt,</text>
<text x="290.1" y="894.5" font-family="Liberation Sans" font-size="40" font-weight="normal" font-style="normal" textLength="98.22" lengthAdjust="spacingAndGlyphs" stroke="#000" stroke-width="0.3">1/ms</text>
<text x="1173.08" y="127.7" font-family="Liberation Serif" font-size="45.5" font-weight="bold" font-style="normal" textLength="38.37" lengthAdjust="spacingAndGlyphs">a)</text>
<text x="1195.67" y="949.2" font-family="Liberation Serif" font-size="45.5" font-weight="bold" font-style="normal" textLength="40.48" lengthAdjust="spacingAndGlyphs">b)</text>
<g stroke="#fff" stroke-width="0.4">
<text x="336.06" y="97.9" font-family="Liberation Sans" font-size="35" font-weight="bold" font-style="normal" textLength="17.13" lengthAdjust="spacingAndGlyphs">E</text><text x="364.04" y="97.9" font-family="Liberation Sans" font-size="35" font-weight="bold" font-style="normal" textLength="18.57" lengthAdjust="spacingAndGlyphs">=</text><text x="393.13" y="97.9" font-family="Liberation Sans" font-size="35" font-weight="bold" font-style="normal" textLength="39.41" lengthAdjust="spacingAndGlyphs">20</text><text x="442.29" y="97.9" font-family="Liberation Sans" font-size="35" font-weight="bold" font-style="normal" textLength="12.18" lengthAdjust="spacingAndGlyphs">J</text>
<text x="641.16" y="97.9" font-family="Liberation Sans" font-size="35" font-weight="bold" font-style="normal" textLength="17.13" lengthAdjust="spacingAndGlyphs">E</text><text x="669.14" y="97.9" font-family="Liberation Sans" font-size="35" font-weight="bold" font-style="normal" textLength="18.57" lengthAdjust="spacingAndGlyphs">=</text><text x="698.23" y="97.9" font-family="Liberation Sans" font-size="35" font-weight="bold" font-style="normal" textLength="39.41" lengthAdjust="spacingAndGlyphs">20</text><text x="747.39" y="97.9" font-family="Liberation Sans" font-size="35" font-weight="bold" font-style="normal" textLength="12.18" lengthAdjust="spacingAndGlyphs">J</text><text x="771.28" y="97.9" font-family="Liberation Sans" font-size="35" font-weight="bold" font-style="normal" textLength="65.45" lengthAdjust="spacingAndGlyphs">Calc</text>
<text x="617.36" y="1013.8" font-family="Liberation Sans" font-size="35" font-weight="bold" font-style="normal" textLength="17.13" lengthAdjust="spacingAndGlyphs">E</text><text x="645.34" y="1013.8" font-family="Liberation Sans" font-size="35" font-weight="bold" font-style="normal" textLength="18.57" lengthAdjust="spacingAndGlyphs">=</text><text x="674.43" y="1013.8" font-family="Liberation Sans" font-size="35" font-weight="bold" font-style="normal" textLength="39.41" lengthAdjust="spacingAndGlyphs">20</text><text x="723.59" y="1013.8" font-family="Liberation Sans" font-size="35" font-weight="bold" font-style="normal" textLength="12.18" lengthAdjust="spacingAndGlyphs">J</text>
<text x="920.66" y="1013.8" font-family="Liberation Sans" font-size="35" font-weight="bold" font-style="normal" textLength="17.13" lengthAdjust="spacingAndGlyphs">E</text><text x="948.64" y="1013.8" font-family="Liberation Sans" font-size="35" font-weight="bold" font-style="normal" textLength="18.57" lengthAdjust="spacingAndGlyphs">=</text><text x="977.73" y="1013.8" font-family="Liberation Sans" font-size="35" font-weight="bold" font-style="normal" textLength="39.41" lengthAdjust="spacingAndGlyphs">20</text><text x="1026.89" y="1013.8" font-family="Liberation Sans" font-size="35" font-weight="bold" font-style="normal" textLength="12.18" lengthAdjust="spacingAndGlyphs">J</text><text x="1049.44" y="1013.8" font-family="Liberation Sans" font-size="35" font-weight="bold" font-style="normal" textLength="49.59" lengthAdjust="spacingAndGlyphs">Eq.</text><text x="1110.39" y="1013.8" font-family="Liberation Sans" font-size="35" font-weight="bold" font-style="normal" textLength="37.57" lengthAdjust="spacingAndGlyphs">23</text>
<text x="336.06" y="144.1" font-family="Liberation Sans" font-size="35" font-weight="bold" font-style="normal" textLength="17.13" lengthAdjust="spacingAndGlyphs">E</text><text x="364.04" y="144.1" font-family="Liberation Sans" font-size="35" font-weight="bold" font-style="normal" textLength="18.57" lengthAdjust="spacingAndGlyphs">=</text><text x="393.52" y="144.1" font-family="Liberation Sans" font-size="35" font-weight="bold" font-style="normal" textLength="39.01" lengthAdjust="spacingAndGlyphs">30</text><text x="442.29" y="144.1" font-family="Liberation Sans" font-size="35" font-weight="bold" font-style="normal" textLength="12.18" lengthAdjust="spacingAndGlyphs">J</text>
<text x="641.16" y="144.1" font-family="Liberation Sans" font-size="35" font-weight="bold" font-style="normal" textLength="17.13" lengthAdjust="spacingAndGlyphs">E</text><text x="669.14" y="144.1" font-family="Liberation Sans" font-size="35" font-weight="bold" font-style="normal" textLength="18.57" lengthAdjust="spacingAndGlyphs">=</text><text x="698.62" y="144.1" font-family="Liberation Sans" font-size="35" font-weight="bold" font-style="normal" textLength="39.01" lengthAdjust="spacingAndGlyphs">30</text><text x="747.39" y="144.1" font-family="Liberation Sans" font-size="35" font-weight="bold" font-style="normal" textLength="12.18" lengthAdjust="spacingAndGlyphs">J</text><text x="771.28" y="144.1" font-family="Liberation Sans" font-size="35" font-weight="bold" font-style="normal" textLength="65.45" lengthAdjust="spacingAndGlyphs">Calc</text>
<text x="617.36" y="1061.5" font-family="Liberation Sans" font-size="35" font-weight="bold" font-style="normal" textLength="17.13" lengthAdjust="spacingAndGlyphs">E</text><text x="645.34" y="1061.5" font-family="Liberation Sans" font-size="35" font-weight="bold" font-style="normal" textLength="18.57" lengthAdjust="spacingAndGlyphs">=</text><text x="674.82" y="1061.5" font-family="Liberation Sans" font-size="35" font-weight="bold" font-style="normal" textLength="39.01" lengthAdjust="spacingAndGlyphs">30</text><text x="723.59" y="1061.5" font-family="Liberation Sans" font-size="35" font-weight="bold" font-style="normal" textLength="12.18" lengthAdjust="spacingAndGlyphs">J</text>
<text x="920.66" y="1061.5" font-family="Liberation Sans" font-size="35" font-weight="bold" font-style="normal" textLength="17.13" lengthAdjust="spacingAndGlyphs">E</text><text x="948.64" y="1061.5" font-family="Liberation Sans" font-size="35" font-weight="bold" font-style="normal" textLength="18.57" lengthAdjust="spacingAndGlyphs">=</text><text x="978.12" y="1061.5" font-family="Liberation Sans" font-size="35" font-weight="bold" font-style="normal" textLength="39.01" lengthAdjust="spacingAndGlyphs">30</text><text x="1026.89" y="1061.5" font-family="Liberation Sans" font-size="35" font-weight="bold" font-style="normal" textLength="12.18" lengthAdjust="spacingAndGlyphs">J</text><text x="1049.44" y="1061.5" font-family="Liberation Sans" font-size="35" font-weight="bold" font-style="normal" textLength="49.59" lengthAdjust="spacingAndGlyphs">Eq.</text><text x="1110.39" y="1061.5" font-family="Liberation Sans" font-size="35" font-weight="bold" font-style="normal" textLength="37.57" lengthAdjust="spacingAndGlyphs">23</text>
<text x="336.06" y="190.3" font-family="Liberation Sans" font-size="35" font-weight="bold" font-style="normal" textLength="17.13" lengthAdjust="spacingAndGlyphs">E</text><text x="364.04" y="190.3" font-family="Liberation Sans" font-size="35" font-weight="bold" font-style="normal" textLength="18.57" lengthAdjust="spacingAndGlyphs">=</text><text x="393.9" y="190.3" font-family="Liberation Sans" font-size="35" font-weight="bold" font-style="normal" textLength="38.62" lengthAdjust="spacingAndGlyphs">40</text><text x="442.29" y="190.3" font-family="Liberation Sans" font-size="35" font-weight="bold" font-style="normal" textLength="12.18" lengthAdjust="spacingAndGlyphs">J</text>
<text x="641.16" y="190.3" font-family="Liberation Sans" font-size="35" font-weight="bold" font-style="normal" textLength="17.13" lengthAdjust="spacingAndGlyphs">E</text><text x="669.14" y="190.3" font-family="Liberation Sans" font-size="35" font-weight="bold" font-style="normal" textLength="18.57" lengthAdjust="spacingAndGlyphs">=</text><text x="699" y="190.3" font-family="Liberation Sans" font-size="35" font-weight="bold" font-style="normal" textLength="38.62" lengthAdjust="spacingAndGlyphs">40</text><text x="747.39" y="190.3" font-family="Liberation Sans" font-size="35" font-weight="bold" font-style="normal" textLength="12.18" lengthAdjust="spacingAndGlyphs">J</text><text x="771.28" y="190.3" font-family="Liberation Sans" font-size="35" font-weight="bold" font-style="normal" textLength="65.45" lengthAdjust="spacingAndGlyphs">Calc</text>
<text x="617.36" y="1109.2" font-family="Liberation Sans" font-size="35" font-weight="bold" font-style="normal" textLength="17.13" lengthAdjust="spacingAndGlyphs">E</text><text x="645.34" y="1109.2" font-family="Liberation Sans" font-size="35" font-weight="bold" font-style="normal" textLength="18.57" lengthAdjust="spacingAndGlyphs">=</text><text x="675.2" y="1109.2" font-family="Liberation Sans" font-size="35" font-weight="bold" font-style="normal" textLength="38.62" lengthAdjust="spacingAndGlyphs">40</text><text x="723.59" y="1109.2" font-family="Liberation Sans" font-size="35" font-weight="bold" font-style="normal" textLength="12.18" lengthAdjust="spacingAndGlyphs">J</text>
<text x="920.66" y="1109.2" font-family="Liberation Sans" font-size="35" font-weight="bold" font-style="normal" textLength="17.13" lengthAdjust="spacingAndGlyphs">E</text><text x="948.64" y="1109.2" font-family="Liberation Sans" font-size="35" font-weight="bold" font-style="normal" textLength="18.57" lengthAdjust="spacingAndGlyphs">=</text><text x="978.5" y="1109.2" font-family="Liberation Sans" font-size="35" font-weight="bold" font-style="normal" textLength="38.62" lengthAdjust="spacingAndGlyphs">40</text><text x="1026.89" y="1109.2" font-family="Liberation Sans" font-size="35" font-weight="bold" font-style="normal" textLength="12.18" lengthAdjust="spacingAndGlyphs">J</text><text x="1049.44" y="1109.2" font-family="Liberation Sans" font-size="35" font-weight="bold" font-style="normal" textLength="49.59" lengthAdjust="spacingAndGlyphs">Eq.</text><text x="1110.39" y="1109.2" font-family="Liberation Sans" font-size="35" font-weight="bold" font-style="normal" textLength="37.57" lengthAdjust="spacingAndGlyphs">23</text>
</g>
</g>
<path d="M308.8 81.5L314.6 87.3L308.8 93.1L303 87.3Z" fill="#4F81BD"/>
<rect x="302.45" y="127.55" width="12.1" height="12.1" fill="#C0504D"/>
<path d="M308.8 173.7L315.3 186.1L302.3 186.1Z" fill="#9BBB59"/>
<path d="M590.1 997.6L595.9 1003.4L590.1 1009.2L584.3 1003.4Z" fill="#4F81BD"/>
<rect x="583.75" y="1045.25" width="12.1" height="12.1" fill="#C0504D"/>
<path d="M590.1 1093.2L596.6 1105.6L583.6 1105.6Z" fill="#9BBB59"/>
<path d="M593.8 86.8H635.7" fill="none" stroke="#000" stroke-width="4.2" stroke-linecap="round" stroke-dasharray="10 10"/>
<path d="M593.8 133.3H635.7" fill="none" stroke="#000" stroke-width="4.2" stroke-linecap="round" stroke-dasharray="0.01 10.1"/>
<path d="M593.8 179.3H635.7" fill="none" stroke="#000" stroke-width="4.2" stroke-linecap="round" stroke-dasharray="15.4 19.8 0.01 19.8"/>
<path d="M873 1002.8H914.9" fill="none" stroke="#000" stroke-width="4.2" stroke-linecap="round" stroke-dasharray="10 10"/>
<path d="M873 1050.9H914.9" fill="none" stroke="#000" stroke-width="4.2" stroke-linecap="round" stroke-dasharray="0.01 10.1"/>
<path d="M873 1099.3H914.9" fill="none" stroke="#000" stroke-width="4.2" stroke-linecap="round" stroke-dasharray="15.4 19.8 0.01 19.8"/>
</svg>
</body></html>
